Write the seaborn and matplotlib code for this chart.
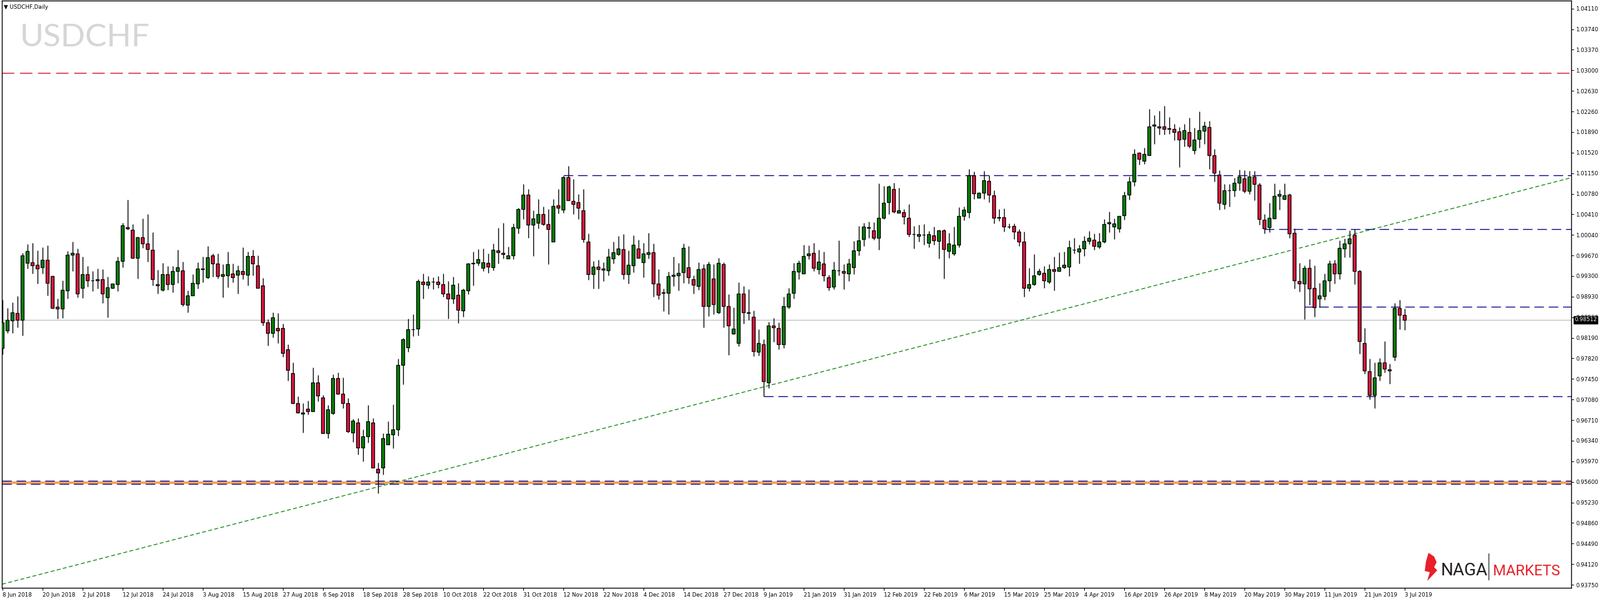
import numpy as np
import pandas as pd
import matplotlib
matplotlib.use("Agg")
import matplotlib.pyplot as plt
import matplotlib.transforms as mtrans
from matplotlib import font_manager
from matplotlib.patches import Polygon
import seaborn as sns

# ---------------- data ----------------
opens = [
 .9801,.9832,.9850,.9864,.9851,.9954,.9955,.9950,.9946,.9959,
 .9930,.9875,.9871,.9904,.9968,.9970,.9909,.9933,.9922,.9922,
 .9924,.9892,.9909,.9915,.9957,1.0018,1.0013,.9963,1.0000,.9988,
 .9977,.9915,.9905,.9933,.9915,.9939,.9940,.9878,.9895,.9917,
 .9944,.9928,.9967,.9952,.9930,.9931,.9935,.9932,.9939,.9932,
 .9966,.9949,.9913,.9847,.9827,
 .9837,.9837,.9798,.9755,.9701,.9682,.9691,.9687,.9739,.9712,
 .9647,.9683,.9746,.9718,.9701,.9649,.9667,.9622,.9642,.9667,
 .9583,.9586,.9627,.9645,.9654,.9770,.9802,.9834,.9835,.9920,
 .9914,.9920,.9920,.9915,.9898,.9889,.9896,.9868,.9904,.9952,
 .9954,.9945,.9954,.9946,.9976,.9972,.9961,.9967,1.0017,1.0050,
 1.0076,1.0022,1.0026,1.0042,1.0023,.9992,1.0057,1.0049,1.0108,1.0065,
 1.0063,1.0048,.9992,.9933,.9947,.9943,.9940,.9962,.9969,.9978,
 .9933,.9949,.9980,.9955,.9969,.9973,.9916,.9900,.9900,.9930,
 .9931,.9937,.9946,.9924,.9912,.9943,.9876,.9926,.9865,.9951,
 .9876,.9826,.9809,.9898,.9864,.9857,.9794,.9807,.9739,.9841,
 .9837,.9807,.9875,.9900,.9938,.9934,.9967,.9972,.9942,.9952,
 .9928,.9911,.9940,.9939,.9934,.9946,.9976,.9996,1.0017,1.0012,
 .9999,1.0035,1.0063,1.0087,1.0044,1.0045,1.0035,1.0005,1.0002,1.0004,
 .9990,1.0003,.9993,1.0012,.9975,.9970,.9986,1.0038,1.0045,1.0111,
 1.0071,1.0080,1.0101,1.0075,1.0035,1.0036,1.0019,1.0020,1.0010,.9992,
 .9909,.9915,.9933,.9936,.9920,.9942,.9939,.9946,.9947,.9977,
 .9974,.9979,.9993,.9995,.9983,.9992,1.0024,1.0019,1.0015,1.0039,
 1.0076,1.0100,1.0152,1.0137,1.0147,1.0200,1.0197,1.0199,1.0195,1.0195,
 1.0190,1.0176,1.0189,1.0156,1.0176,1.0191,1.0198,1.0147,1.0112,1.0060,
 1.0084,1.0084,1.0098,1.0106,1.0083,1.0109,1.0094,1.0031,1.0018,1.0034,
 1.0074,1.0069,1.0076,1.0008,.9921,.9917,.9945,.9909,.9889,.9894,
 .9922,.9953,.9934,.9980,.9989,1.0004,.9939,.9810,.9759,.9716,
 .9751,.9775,.9762,.9785,.9873,.9860]

closes = [
 .9847,.9851,.9865,.9851,.9967,.9975,.9949,.9943,.9959,.9918,
 .9873,.9872,.9905,.9968,.9972,.9898,.9933,.9922,.9922,.9924,
 .9899,.9910,.9916,.9957,1.0021,1.0015,.9963,1.0000,.9988,.9978,
 .9924,.9913,.9933,.9915,.9939,.9946,.9879,.9895,.9918,.9944,
 .9942,.9964,.9953,.9930,.9933,.9951,.9928,.9940,.9933,.9966,
 .9952,.9909,.9847,.9828,.9856,
 .9832,.9792,.9761,.9702,.9685,.9685,.9687,.9739,.9715,.9648,
 .9690,.9746,.9718,.9702,.9651,.9670,.9622,.9642,.9669,.9585,
 .9577,.9639,.9646,.9654,.9770,.9816,.9834,.9834,.9921,.9915,
 .9920,.9920,.9915,.9898,.9889,.9914,.9869,.9905,.9952,.9954,
 .9960,.9955,.9947,.9977,.9973,.9969,.9967,1.0018,1.0050,1.0076,
 1.0022,1.0033,1.0042,1.0023,1.0014,1.0056,1.0053,1.0108,1.0066,1.0060,
 1.0053,.9996,.9933,.9947,.9942,.9941,.9965,.9973,.9979,.9933,
 .9950,.9986,.9963,.9970,.9973,.9916,.9896,.9900,.9930,.9932,
 .9936,.9981,.9928,.9914,.9942,.9876,.9951,.9879,.9954,.9876,
 .9841,.9835,.9898,.9865,.9864,.9795,.9810,.9741,.9841,.9838,
 .9807,.9876,.9898,.9939,.9954,.9966,.9970,.9945,.9956,.9931,
 .9910,.9941,.9940,.9936,.9952,.9976,.9994,1.0019,1.0017,.9999,
 1.0035,1.0062,1.0091,1.0046,1.0048,1.0037,1.0005,1.0005,1.0005,1.0004,
 1.0005,.9994,1.0012,.9978,.9988,.9986,1.0038,1.0049,1.0111,1.0079,
 1.0080,1.0102,1.0076,1.0035,1.0035,1.0019,1.0019,1.0010,.9992,.9909,
 .9915,.9931,.9939,.9922,.9942,.9939,.9946,.9950,.9982,.9977,
 .9979,.9993,.9999,.9984,.9992,1.0023,1.0027,1.0024,1.0038,1.0075,
 1.0100,1.0150,1.0140,1.0149,1.0199,1.0202,1.0199,1.0195,1.0195,1.0189,
 1.0175,1.0192,1.0164,1.0175,1.0192,1.0200,1.0147,1.0116,1.0062,1.0084,
 1.0084,1.0098,1.0109,1.0083,1.0109,1.0095,1.0032,1.0016,1.0035,1.0074,
 1.0077,1.0075,1.0006,.9922,.9917,.9945,.9908,.9874,.9895,.9922,
 .9953,.9935,.9981,.9988,.9998,.9939,.9813,.9760,.9716,.9748,
 .9775,.9763,.9760,.9873,.9860,.9851]

highs = [
 .9887,.9873,.9883,.9894,.9972,.9987,.9990,.9976,.9982,.9985,
 .9931,.9889,.9922,.9975,.9992,.9979,.9965,.9948,.9939,.9943,
 .9942,.9929,.9916,.9965,1.0026,1.0067,1.0023,1.0001,1.0033,1.0042,
 1.0009,.9941,.9954,.9948,.9948,.9977,.9956,.9904,.9933,.9955,
 .9965,.9984,.9970,.9970,.9951,.9974,.9952,.9949,.9982,.9974,
 .9977,.9967,.9927,.9852,.9865,
 .9864,.9844,.9807,.9775,.9714,.9701,.9706,.9766,.9752,.9716,
 .9698,.9753,.9757,.9748,.9711,.9673,.9675,.9654,.9698,.9675,
 .9595,.9648,.9669,.9699,.9781,.9818,.9854,.9861,.9924,.9935,
 .9930,.9928,.9930,.9935,.9921,.9929,.9918,.9907,.9954,.9974,
 .9978,.9980,.9970,.9988,1.0017,1.0026,.9983,1.0024,1.0053,1.0095,
 1.0086,1.0048,1.0069,1.0055,1.0050,1.0069,1.0086,1.0110,1.0128,1.0104,
 1.0078,1.0086,1.0006,.9957,.9959,.9955,.9980,.9992,1.0002,1.0005,
 .9976,1.0003,.9995,.9990,1.0008,.9989,.9942,.9908,.9938,.9965,
 .9954,.9989,.9984,.9931,.9955,.9951,.9956,.9951,.9963,.9955,
 .9897,.9874,.9919,.9912,.9906,.9868,.9834,.9816,.9848,.9855,
 .9847,.9893,.9909,.9954,.9958,.9986,.9985,.9990,.9977,.9974,
 .9932,.9956,.9994,.9951,.9961,.9993,1.0020,1.0026,1.0028,1.0027,
 1.0097,1.0092,1.0093,1.0098,1.0089,1.0050,1.0059,1.0020,1.0022,1.0023,
 1.0011,1.0019,1.0013,1.0014,1.0008,1.0019,1.0054,1.0055,1.0123,1.0118,
 1.0081,1.0119,1.0111,1.0084,1.0051,1.0052,1.0024,1.0024,1.0014,1.0010,
 .9945,.9969,.9943,.9948,.9951,.9965,.9973,.9974,.9994,.9999,
 .9986,1.0002,1.0011,1.0006,1.0008,1.0032,1.0046,1.0033,1.0038,1.0082,
 1.0109,1.0158,1.0153,1.0161,1.0230,1.0219,1.0227,1.0236,1.0216,1.0203,
 1.0198,1.0203,1.0215,1.0197,1.0226,1.0208,1.0209,1.0158,1.0120,1.0095,
 1.0096,1.0107,1.0121,1.0120,1.0119,1.0119,1.0098,1.0041,1.0062,1.0097,
 1.0085,1.0097,1.0079,1.0015,.9954,.9949,.9960,.9949,.9918,.9935,
 .9958,.9959,.9994,.9998,1.0012,1.0014,.9941,.9836,.9781,.9775,
 .9783,.9813,.9772,.9882,.9887,.9871]

lows = [
 .9789,.9828,.9828,.9838,.9823,.9944,.9934,.9916,.9934,.9895,
 .9872,.9854,.9855,.9890,.9939,.9892,.9891,.9911,.9903,.9908,
 .9882,.9856,.9908,.9903,.9946,1.0013,.9961,.9925,.9981,.9956,
 .9913,.9899,.9903,.9905,.9901,.9918,.9876,.9865,.9895,.9907,
 .9919,.9926,.9929,.9926,.9892,.9910,.9919,.9899,.9924,.9913,
 .9931,.9909,.9841,.9805,.9820,
 .9809,.9785,.9742,.9700,.9684,.9649,.9681,.9687,.9705,.9648,
 .9639,.9681,.9717,.9693,.9649,.9632,.9609,.9597,.9631,.9585,
 .9539,.9573,.9627,.9620,.9643,.9735,.9794,.9822,.9823,.9889,
 .9908,.9906,.9909,.9893,.9854,.9880,.9846,.9857,.9897,.9913,
 .9949,.9939,.9936,.9940,.9953,.9962,.9961,.9960,1.0007,1.0032,
 .9999,.9966,1.0016,1.0021,.9951,.9992,1.0043,1.0044,1.0066,1.0041,
 1.0032,.9991,.9923,.9907,.9907,.9921,.9931,.9953,.9967,.9924,
 .9916,.9937,.9963,.9928,.9961,.9893,.9888,.9867,.9861,.9912,
 .9904,.9918,.9916,.9898,.9905,.9838,.9858,.9861,.9862,.9838,
 .9788,.9825,.9804,.9845,.9851,.9786,.9787,.9714,.9729,.9812,
 .9798,.9801,.9871,.9890,.9924,.9934,.9960,.9939,.9933,.9921,
 .9904,.9906,.9931,.9906,.9921,.9933,.9967,.9984,.9999,.9995,
 .9977,1.0032,1.0042,1.0044,1.0044,1.0023,1.0001,.9980,.9992,.9986,
 .9982,.9986,.9962,.9926,.9963,.9967,.9982,1.0030,1.0035,1.0068,
 1.0071,1.0069,1.0063,1.0025,1.0029,1.0010,1.0016,.9996,.9984,.9893,
 .9903,.9913,.9931,.9909,.9916,.9904,.9939,.9943,.9930,.9970,
 .9952,.9966,.9987,.9977,.9979,.9990,1.0009,.9996,1.0009,1.0031,
 1.0067,1.0092,1.0130,1.0131,1.0147,1.0168,1.0184,1.0184,1.0185,1.0174,
 1.0126,1.0163,1.0161,1.0150,1.0161,1.0168,1.0123,1.0100,1.0049,1.0050,
 1.0055,1.0073,1.0084,1.0080,1.0078,1.0066,1.0022,1.0007,1.0009,1.0033,
 1.0049,1.0067,.9999,.9908,.9902,.9852,.9878,.9857,.9874,.9887,
 .9902,.9916,.9924,.9964,.9964,.9915,.9790,.9754,.9708,.9692,
 .9742,.9757,.9736,.9778,.9834,.9833]

date_labels = ["8 Jun 2018", "20 Jun 2018", "2 Jul 2018", "12 Jul 2018", "24 Jul 2018",
    "3 Aug 2018", "15 Aug 2018", "27 Aug 2018", "6 Sep 2018", "18 Sep 2018",
    "28 Sep 2018", "10 Oct 2018", "22 Oct 2018", "31 Oct 2018", "12 Nov 2018",
    "22 Nov 2018", "4 Dec 2018", "14 Dec 2018", "27 Dec 2018", "9 Jan 2019",
    "21 Jan 2019", "31 Jan 2019", "12 Feb 2019", "22 Feb 2019", "6 Mar 2019",
    "15 Mar 2019", "25 Mar 2019", "4 Apr 2019", "16 Apr 2019", "26 Apr 2019",
    "8 May 2019", "20 May 2019", "30 May 2019", "11 Jun 2019", "21 Jun 2019",
    "3 Jul 2019"]
label_every = 8

# horizontal levels: (price, first bar)
blue_levels = [(1.0111, 112), (1.0014, 252), (0.98748, 260), (0.9714, 152)]
red_level = 1.0295
support_lines = [0.95620, 0.95563]
orange_level = 0.95590
last_price = 0.98512
trend_bars = [0, 313.3]
trend_prices = [0.93760, 1.01069]
ytick_top, ytick_step, ytick_count = 1.04110, 0.0037, 29

n = len(opens)
assert len(closes) == n and len(highs) == n and len(lows) == n

df = pd.DataFrame({"bar": np.arange(n), "open": opens, "high": highs,
                   "low": lows, "close": closes})

# ---------------- figure ----------------
sns.set_theme(style="white")
plt.rcParams["font.family"] = "DejaVu Sans"
W, H = 2556, 960
fig = plt.figure(figsize=(W / 100, H / 100), dpi=100)
fig.patch.set_facecolor("white")
ax = fig.add_axes([2.7 / W, 1 - 939 / H, (2510 - 2.7) / W, (939 - 1) / H])
ax.set_facecolor("white")

ax.set_xlim(-0.1, 313.3)
ax.set_ylim(0.93694, 1.04253)

# horizontal lines
ax.axhline(last_price, color="#c0c0c0", lw=1.0, zorder=1)
ax.axhline(red_level, color="#e0405a", lw=1.3, dashes=(11, 5), zorder=1)
for p, start in blue_levels:
    ax.hlines(p, start, 313.3, color="#00008b", lw=1.0, linestyles=(0, (11, 5.5)), zorder=1)
ax.axhline(orange_level, color="#f4a460", lw=3.0, zorder=1)
for p in support_lines:
    ax.axhline(p, color="#00008b", lw=1.0, dashes=(11, 5.5), zorder=2)

# trend line with seaborn
trend = pd.DataFrame({"bar": trend_bars, "price": trend_prices})
sns.lineplot(data=trend, x="bar", y="price", ax=ax, color="#008000", lw=0.9,
             dashes=False, zorder=2)
ax.lines[-1].set_dashes((5, 3))

# candles
up = df["close"] >= df["open"]
ax.vlines(df["bar"], df["low"], df["high"], color="black", lw=1.0, zorder=3)
body_lo = np.minimum(df["open"], df["close"])
body_h = np.maximum(np.abs(df["close"] - df["open"]), 0.00004)
colors = np.where(up, "#008000", "#dc143c")
ax.bar(df["bar"], body_h, bottom=body_lo, width=0.62, color=colors,
       edgecolor="black", linewidth=0.9, zorder=4)

# axes styling
for s in ax.spines.values():
    s.set_color("black")
    s.set_linewidth(1.0)
yt = [ytick_top - i * ytick_step for i in range(ytick_count)]
ax.set_yticks(yt)
ax.set_yticklabels([f"{v:.5f}" for v in yt])
ax.yaxis.tick_right()
ax.tick_params(axis="y", which="both", direction="out", length=3, width=0.8,
               labelsize=6.3, pad=2, colors="black", right=True, left=False)
xt = list(range(0, n, label_every))
ax.set_xticks(xt)
ax.set_xticklabels(date_labels[:len(xt)], ha="left")
ax.tick_params(axis="x", direction="out", length=3, width=0.8, labelsize=6.3,
               pad=2, colors="black", bottom=True)
ax.set_xlabel("")
ax.set_ylabel("")
ax.grid(False)

# last price box
trans = mtrans.blended_transform_factory(ax.transAxes, ax.transData)
ax.text(1.002, last_price, f"{last_price:.5f}", transform=trans, fontsize=6.3,
        color="white", va="center", ha="left",
        bbox=dict(boxstyle="square,pad=0.15", fc="black", ec="black"), zorder=10,
        clip_on=False)

# texts
fig.text(6 / W, 1 - 11 / H, "\u25BC USDCHF,Daily", fontsize=6.3, va="center",
         ha="left", color="black")
fig.text(32 / W, 1 - 74 / H, "USDCHF", fontsize=37, color="#d6d6d6",
         family="Lato", va="baseline", ha="left")

# logo
names = {f.name for f in font_manager.fontManager.ttflist}
if "Liberation Sans Narrow" in names:
    logo_font, s1, s2 = "Liberation Sans Narrow", 24, 21
else:
    logo_font, s1, s2 = "Roboto", 20, 17

def fx(x):
    return x / W

def fy(y):
    return 1 - y / H

flame = Polygon([(fx(x), fy(y)) for x, y in
                 [(2282, 883), (2291, 889), (2295, 898), (2291, 906), (2296, 911),
                  (2280, 928), (2284, 914), (2276, 912), (2278, 897)]],
                closed=True, transform=fig.transFigure, fc="#e8202a", ec="none")
fig.add_artist(flame)
fig.text(fx(2302), fy(919), "NAGA", fontsize=s1, color="#231f20",
         family=logo_font, va="baseline", ha="left")
fig.add_artist(plt.Line2D([fx(2378), fx(2378)], [fy(884), fy(926)],
                          color="#231f20", lw=0.9, transform=fig.transFigure))
fig.text(fx(2385), fy(919), "MARKETS", fontsize=s2, color="#e8202a",
         family=logo_font, va="baseline", ha="left")

fig.savefig("out.png", dpi=100, facecolor="white")
